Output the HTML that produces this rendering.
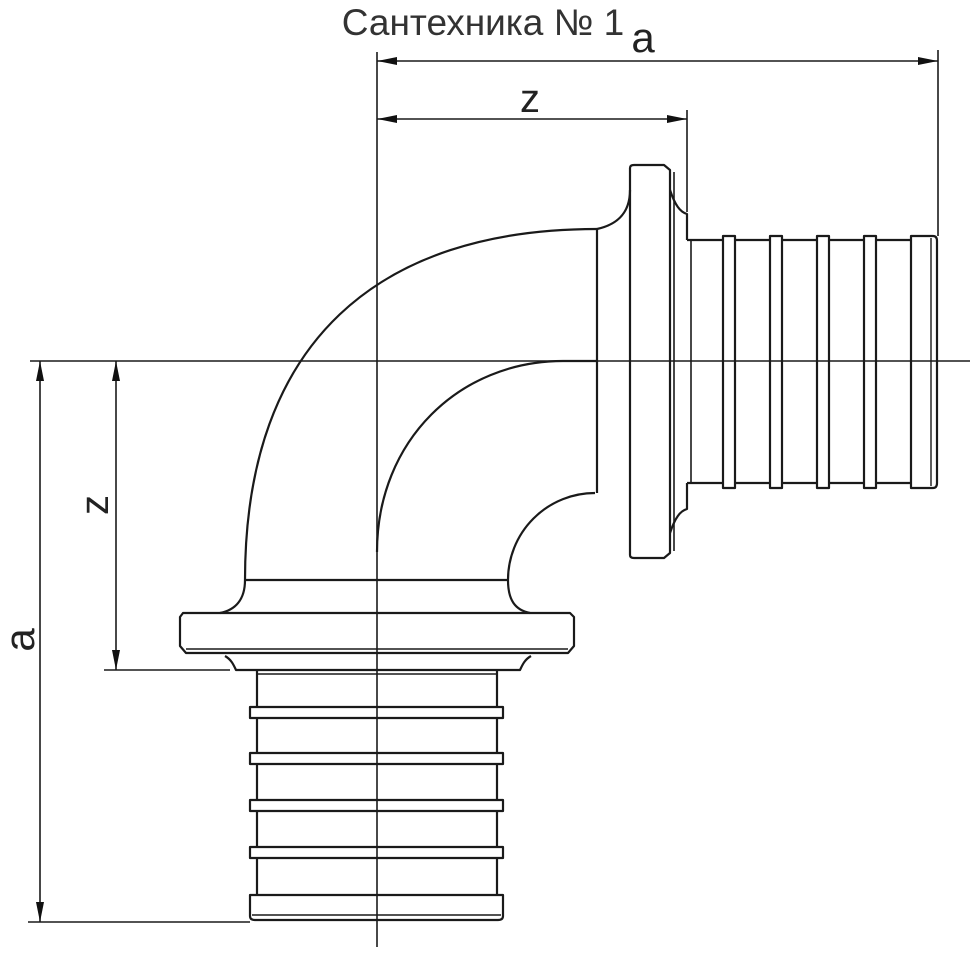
<!DOCTYPE html>
<html><head><meta charset="utf-8"><style>
html,body{margin:0;padding:0;background:#fff;}
svg{display:block;}
</style></head><body>
<svg width="970" height="970" viewBox="0 0 970 970" xmlns="http://www.w3.org/2000/svg">
<defs>
<marker id="ar" viewBox="0 0 20 8" refX="20" refY="4" markerWidth="20" markerHeight="8" orient="auto-start-reverse" markerUnits="userSpaceOnUse">
<path d="M0,0 L20,4 L0,8 z" fill="#111"/>
</marker>
</defs>
<g fill="none" stroke="#1a1a1a" stroke-width="2.2" stroke-linejoin="round">
<line x1="30" y1="361" x2="970" y2="361" stroke-width="1.6"/>
<line x1="377" y1="52" x2="377" y2="947" stroke-width="1.6"/>
<line x1="377" y1="61" x2="938" y2="61" stroke-width="1.6" marker-start="url(#ar)" marker-end="url(#ar)"/>
<line x1="938" y1="50" x2="938" y2="236" stroke-width="1.6"/>
<line x1="377" y1="119" x2="687" y2="119" stroke-width="1.6" marker-start="url(#ar)" marker-end="url(#ar)"/>
<line x1="687" y1="110" x2="687" y2="212" stroke-width="1.6"/>
<line x1="40" y1="361" x2="40" y2="922" stroke-width="1.6" marker-start="url(#ar)" marker-end="url(#ar)"/>
<line x1="28" y1="922" x2="250" y2="922" stroke-width="1.6"/>
<line x1="116" y1="361" x2="116" y2="670" stroke-width="1.6" marker-start="url(#ar)" marker-end="url(#ar)"/>
<line x1="104" y1="670" x2="230" y2="670" stroke-width="1.6"/>

<path d="M245,580 C245,340 380,229 597,229"/>
<path d="M377,552 C377,440 460,361 563,361 L597,361"/>
<line x1="245" y1="580" x2="508" y2="580"/>
<line x1="597" y1="229" x2="597" y2="493"/>
<path d="M595,493 A87,87 0 0 0 508,580 C508,600 515,610 530,613"/>
<path d="M597,229 C615,225 630,215 630,190"/>
<path d="M245,580 C245,600 235,610 220,613"/>

<path d="M630,168 Q630,165 634,165 L664,165 L670,170 L670,553 L664,558 L634,558 Q630,558 630,555 Z"/>
<line x1="674" y1="172" x2="674" y2="551" stroke-width="1.6"/>
<path d="M670,190 C675,205 680,212 687,214 L687,240"/>
<path d="M670,533 C675,518 680,511 687,509 L687,483"/>
<line x1="691" y1="240" x2="691" y2="483" stroke-width="1.6"/>
<line x1="687" y1="240" x2="723" y2="240"/>
<line x1="687" y1="483" x2="723" y2="483"/>
<rect x="723" y="236" width="12" height="252"/>
<line x1="735" y1="240" x2="770" y2="240"/><line x1="735" y1="483" x2="770" y2="483"/>
<rect x="770" y="236" width="12" height="252"/>
<line x1="782" y1="240" x2="817" y2="240"/><line x1="782" y1="483" x2="817" y2="483"/>
<rect x="817" y="236" width="12" height="252"/>
<line x1="829" y1="240" x2="864" y2="240"/><line x1="829" y1="483" x2="864" y2="483"/>
<rect x="864" y="236" width="12" height="252"/>
<line x1="876" y1="240" x2="911" y2="240"/><line x1="876" y1="483" x2="911" y2="483"/>
<path d="M911,236 L933,236 Q937,236 937,241 L937,483 Q937,488 933,488 L911,488 Z"/>
<line x1="931" y1="238" x2="931" y2="486" stroke-width="1.4"/>

<path d="M183,613 L570,613 L574,617 L574,646 L568,653 L186,653 L180,646 L180,617 Z"/>
<line x1="186" y1="649" x2="568" y2="649" stroke-width="1.4"/>
<path d="M225,656 C232,660 234,666 236,670 L520,670 C522,666 524,660 531,656"/>
<line x1="257" y1="674" x2="497" y2="674" stroke-width="1.6"/>
<line x1="257" y1="670" x2="257" y2="707"/><line x1="497" y1="670" x2="497" y2="707"/>
<rect x="250" y="707" width="253" height="11"/>
<line x1="257" y1="718" x2="257" y2="753"/><line x1="497" y1="718" x2="497" y2="753"/>
<rect x="250" y="753" width="253" height="11"/>
<line x1="257" y1="764" x2="257" y2="800"/><line x1="497" y1="764" x2="497" y2="800"/>
<rect x="250" y="800" width="253" height="11"/>
<line x1="257" y1="811" x2="257" y2="847"/><line x1="497" y1="811" x2="497" y2="847"/>
<rect x="250" y="847" width="253" height="11"/>
<line x1="257" y1="858" x2="257" y2="895"/><line x1="497" y1="858" x2="497" y2="895"/>
<path d="M250,895 L503,895 L503,916 Q503,920 498,920 L255,920 Q250,920 250,916 Z"/>
<line x1="252" y1="915" x2="501" y2="915" stroke-width="1.4"/>
</g>
<g font-family="Liberation Sans, sans-serif" fill="#222">
<text x="483" y="35" font-size="37" text-anchor="middle" fill="#333">Сантехника № 1</text>
<text x="643" y="52" font-size="42" text-anchor="middle">a</text>
<text x="530" y="112" font-size="40" text-anchor="middle">z</text>
<text transform="translate(34,640) rotate(-90)" font-size="42" text-anchor="middle">a</text>
<text transform="translate(108,505) rotate(-90)" font-size="40" text-anchor="middle">z</text>
</g>
</svg>
</body></html>
